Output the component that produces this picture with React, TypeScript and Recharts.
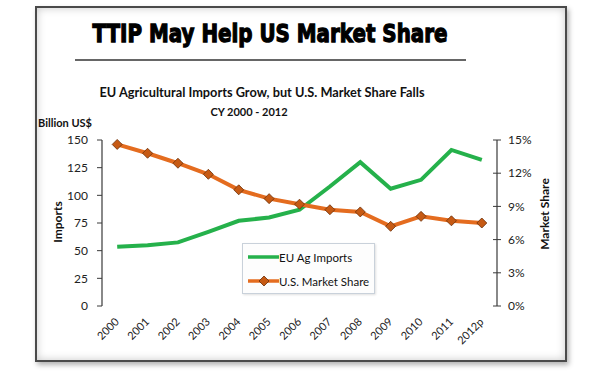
import { LineChart, Line, XAxis, YAxis, Legend } from "recharts";

// EU agricultural imports and U.S. market share, CY 2000 - 2012
const years = ["2000", "2001", "2002", "2003", "2004", "2005", "2006", "2007", "2008", "2009", "2010", "2011", "2012p"];
const euImports = [53.5, 55, 57.5, 67, 77, 80, 87, 108, 130, 106, 114, 141, 132];
const usShare = [14.6, 13.8, 12.9, 11.9, 10.5, 9.7, 9.2, 8.7, 8.5, 7.2, 8.1, 7.7, 7.5];
const leftTicks = [0, 25, 50, 75, 100, 125, 150];
const rightTicks = [0, 3, 6, 9, 12, 15];

const GREEN = "#25b14b";
const ORANGE = "#e46c1f";
const AXIS = "#3a3a3a";
const FONT = "Lato, 'Open Sans', sans-serif";

const data = years.map((year, i) => ({ i, year, imports: euImports[i], share: usShare[i] }));
const labelTicks = years.map((_, i) => i);
const boundaryTicks = [...years.map((_, i) => i - 0.5), years.length - 0.5];

const Diamond = (props: any) => {
  const { cx, cy } = props;
  if (cx == null || cy == null) return <g />;
  const r = 5;
  return (
    <path
      d={`M${cx},${cy - r} L${cx + r},${cy} L${cx},${cy + r} L${cx - r},${cy} Z`}
      fill="#c65a14"
      stroke="#6b2e08"
      strokeWidth={0.8}
    />
  );
};

const LegendBox = () => (
  <div
    style={{
      width: 133,
      height: 51,
      boxSizing: "border-box",
      border: "1px solid #c9d1da",
      background: "#fdfdfd",
      boxShadow: "1px 1px 2px rgba(0,0,0,0.12)",
      fontFamily: FONT,
      fontSize: 11.5,
      color: "#111",
      whiteSpace: "nowrap",
      textAlign: "left",
    }}
  >
    <div style={{ display: "flex", alignItems: "center", height: 26, paddingLeft: 5 }}>
      <svg width={31} height={10}>
        <line x1={0} y1={5} x2={31} y2={5} stroke={GREEN} strokeWidth={3.5} />
      </svg>
      <span>EU Ag Imports</span>
    </div>
    <div style={{ display: "flex", alignItems: "center", height: 22, paddingLeft: 5 }}>
      <svg width={31} height={12}>
        <line x1={0} y1={6} x2={31} y2={6} stroke={ORANGE} strokeWidth={3.5} />
        <Diamond cx={16} cy={6} />
      </svg>
      <span>U.S. Market Share</span>
    </div>
  </div>
);

export default function App() {
  return (
    <div style={{ position: "fixed", left: 0, top: 0, width: 600, height: 376, background: "#fff" }}>
      <div
        style={{
          position: "absolute",
          left: 35,
          top: 6,
          width: 532,
          height: 356,
          boxSizing: "border-box",
          border: "2px solid #4a4a4a",
          boxShadow: "inset 0 0 8px rgba(0,0,0,0.22), 2px 3px 5px rgba(0,0,0,0.3)",
          background: "#fff",
        }}
      />
      <div style={{ position: "absolute", left: 0, top: 0 }}>
        <LineChart width={600} height={376} data={data} margin={{ top: 140, right: 0, bottom: 0, left: 0 }}>
          <XAxis
            xAxisId="grid"
            dataKey="i"
            type="number"
            domain={[-0.5, years.length - 0.5]}
            ticks={boundaryTicks}
            interval={0}
            height={0}
            tick={() => null}
            tickSize={7}
            tickLine={{ stroke: AXIS, strokeWidth: 1, transform: "translate(0,-3)" }}
            axisLine={{ stroke: AXIS, strokeWidth: 1.2 }}
            allowDataOverflow
          />
          <XAxis
            xAxisId="lbl"
            dataKey="i"
            type="number"
            domain={[-0.5, years.length - 0.5]}
            ticks={labelTicks}
            interval={0}
            height={70}
            tickFormatter={(v: number) => years[v]}
            tickSize={0}
            tickMargin={11}
            tick={{ angle: -45, textAnchor: "end", dx: -3, fontSize: 11, fill: "#222", fontFamily: FONT }}
            tickLine={false}
            axisLine={false}
            allowDataOverflow
          />
          <YAxis
            yAxisId="left"
            width={102}
            domain={[0, 150]}
            ticks={leftTicks}
            interval={0}
            tickSize={5}
            tickMargin={9}
            tick={{ fontSize: 12, fill: "#222", fontFamily: FONT }}
            tickLine={{ stroke: AXIS }}
            axisLine={{ stroke: AXIS, strokeWidth: 1.2 }}
          />
          <YAxis
            yAxisId="right"
            orientation="right"
            width={103}
            domain={[0, 15]}
            ticks={rightTicks}
            interval={0}
            tickFormatter={(v: number) => `${v}%`}
            tickSize={8}
            tickMargin={3}
            tick={{ fontSize: 12, fill: "#222", fontFamily: FONT }}
            tickLine={{ stroke: AXIS, transform: "translate(-4,0)" }}
            axisLine={{ stroke: AXIS, strokeWidth: 1.2 }}
          />
          <Legend
            layout="vertical"
            align="center"
            verticalAlign="middle"
            content={<LegendBox />}
            wrapperStyle={{ position: "absolute", left: 242, top: 243, width: 133, height: 51 }}
          />
          <Line
            xAxisId="lbl"
            yAxisId="left"
            dataKey="imports"
            name="EU Ag Imports"
            stroke={GREEN}
            strokeWidth={4}
            dot={false}
            isAnimationActive={false}
          />
          <Line
            xAxisId="lbl"
            yAxisId="right"
            dataKey="share"
            name="U.S. Market Share"
            stroke={ORANGE}
            strokeWidth={4}
            dot={<Diamond />}
            activeDot={false}
            isAnimationActive={false}
          />
        </LineChart>
      </div>
      <svg
        width={600}
        height={376}
        style={{ position: "absolute", left: 0, top: 0, pointerEvents: "none" }}
      >
        <text
          x={270}
          y={42}
          textAnchor="middle"
          fontSize={25}
          fontWeight={900}
          fontFamily="'DejaVu Sans', sans-serif"
          textLength={355}
          lengthAdjust="spacingAndGlyphs"
          fill="#000"
          stroke="#000"
          strokeWidth={1.3}
        >
          TTIP May Help US Market Share
        </text>
        <line x1={75} y1={60} x2={466} y2={60} stroke="#333" strokeWidth={1.5} />
        <text
          x={262}
          y={97}
          textAnchor="middle"
          fontSize={13}
          fontWeight={700}
          fontFamily={FONT}
          textLength={325}
          lengthAdjust="spacingAndGlyphs"
          fill="#111"
        >
          EU Agricultural Imports Grow, but U.S. Market Share Falls
        </text>
        <text x={249} y={116} textAnchor="middle" fontSize={11} fontWeight={700} fontFamily={FONT} fill="#111">
          CY 2000 - 2012
        </text>
        <text x={38} y={127} fontSize={11} fontWeight={700} fontFamily={FONT} fill="#111">
          Billion US$
        </text>
        <text
          x={62}
          y={222}
          transform="rotate(-90 62 222)"
          textAnchor="middle"
          fontSize={12}
          fontWeight={700}
          fontFamily={FONT}
          fill="#111"
        >
          Imports
        </text>
        <text
          x={549}
          y={214}
          transform="rotate(-90 549 214)"
          textAnchor="middle"
          fontSize={12}
          fontWeight={700}
          fontFamily={FONT}
          fill="#111"
        >
          Market Share
        </text>
      </svg>
    </div>
  );
}
